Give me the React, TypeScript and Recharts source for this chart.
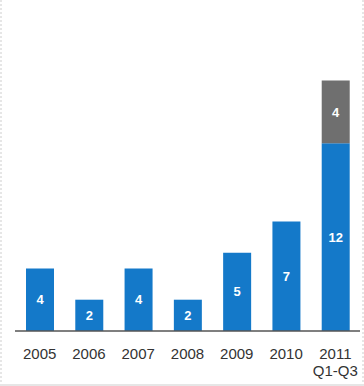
import { BarChart, Bar, XAxis, YAxis, LabelList } from 'recharts';

const years = ['2005', '2006', '2007', '2008', '2009', '2010', '2011\nQ1-Q3'];
const mainValues = [4, 2, 4, 2, 5, 7, 12];
const extraValues = [null, null, null, null, null, null, 4];

const data = years.map((year, i) => ({ year, main: mainValues[i], extra: extraValues[i] }));

const YearTick = (props: any) => {
  const { x, y, payload } = props;
  const lines = String(payload.value).split('\n');
  return (
    <text x={x} y={y} textAnchor="middle" fill="#333" fontSize={15} fontFamily="'Liberation Sans', Arial, sans-serif">
      {lines.map((line, i) => (
        <tspan key={i} x={x} dy={i === 0 ? 20 : 17}>
          {line}
        </tspan>
      ))}
    </text>
  );
};

export default function App() {
  return (
    <div
      style={{
        position: 'absolute',
        top: 0,
        left: 0,
        width: 364,
        height: 386,
        background: '#fff',
        boxSizing: 'border-box',
        borderLeft: '2px dotted #e6e6e6',
        borderRight: '2px dotted #e6e6e6',
        borderBottom: '2px solid #e6e6e6',
      }}
    >
      <BarChart
        width={360}
        height={384}
        data={data}
        margin={{ top: 18, right: 2, bottom: 23, left: 13 }}
        barSize={28}
      >
        <XAxis
          dataKey="year"
          height={30}
          axisLine={{ stroke: '#555', strokeWidth: 1.5 }}
          tickLine={false}
          tick={<YearTick />}
          interval={0}
        />
        <YAxis hide domain={[0, 20]} />
        <Bar dataKey="main" stackId="a" fill="#1479c9" isAnimationActive={false}>
          <LabelList dataKey="main" position="center" fill="#fff" fontSize={13} fontWeight="bold" fontFamily="'Liberation Sans', Arial, sans-serif" />
        </Bar>
        <Bar dataKey="extra" stackId="a" fill="#6f6f6f" isAnimationActive={false}>
          <LabelList dataKey="extra" position="center" fill="#fff" fontSize={13} fontWeight="bold" fontFamily="'Liberation Sans', Arial, sans-serif" />
        </Bar>
      </BarChart>
    </div>
  );
}
